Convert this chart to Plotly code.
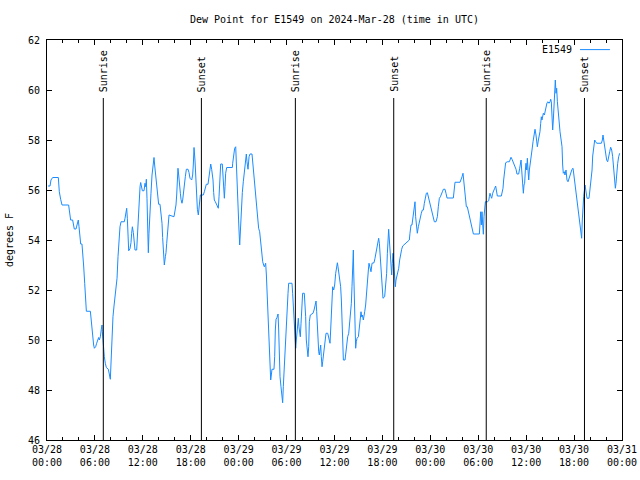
import datetime as dt
import plotly.graph_objects as go

# ---- data ----
start = dt.datetime(2024, 3, 28, 0, 0)

hours = [
 0.13,0.38,0.50,0.71,1.42,1.54,1.71,1.88,2.71,2.80,2.88,2.96,3.21,3.30,3.42,3.63,3.72,3.84,3.92,4.01,
 4.09,4.22,4.38,4.47,4.59,4.72,4.84,4.93,5.43,5.51,5.63,5.72,5.84,5.93,6.09,6.22,6.34,6.47,6.55,6.68,
 6.80,6.89,6.93,7.05,7.18,7.30,7.43,7.68,7.80,7.93,8.01,8.14,8.26,8.39,8.51,8.64,8.77,8.89,9.02,9.14,
 9.27,9.68,9.77,9.89,9.98,10.06,10.14,10.23,10.39,10.52,10.60,10.69,10.81,10.94,11.02,11.23,11.31,11.40,11.52,11.65,
 11.73,11.81,11.94,12.15,12.27,12.36,12.44,12.52,12.61,12.69,12.77,12.90,13.02,13.15,13.27,13.40,13.48,13.61,13.73,13.86,
 13.98,14.15,14.28,14.40,14.48,14.61,14.69,14.82,14.90,14.99,15.07,15.19,15.28,15.90,16.03,16.15,16.24,16.32,16.40,16.49,
 16.57,16.70,16.78,16.90,16.99,17.07,17.20,17.32,17.45,17.66,17.78,17.91,18.12,18.24,18.32,18.41,18.53,18.62,18.74,18.83,
 18.95,19.08,19.20,19.33,19.57,19.70,19.83,19.95,20.16,20.24,20.41,20.50,20.62,20.70,20.79,20.87,20.95,21.08,21.20,21.33,
 21.45,21.54,21.62,21.75,21.95,22.04,22.12,22.21,22.29,22.37,22.50,23.21,23.25,23.38,23.50,23.63,23.71,23.83,23.92,24.04,
 24.13,24.21,24.33,24.46,24.58,24.75,24.88,24.96,25.04,25.17,25.30,25.42,25.67,25.75,25.88,26.00,26.13,26.25,26.38,26.50,
 26.63,26.76,26.88,27.01,27.13,27.21,27.30,27.38,27.47,27.59,27.72,27.84,27.92,28.01,28.09,28.17,28.42,28.51,28.59,28.68,
 28.80,28.93,29.01,29.09,29.18,29.30,29.43,29.51,29.59,29.68,29.80,29.93,30.05,30.18,30.26,30.68,30.76,30.85,30.97,31.05,
 31.14,31.22,31.35,31.47,31.55,31.64,31.72,31.81,31.93,32.01,32.22,32.31,32.39,32.47,32.60,32.68,32.77,32.85,32.97,33.18,
 33.31,33.44,33.56,33.69,33.77,33.85,33.94,34.02,34.10,34.19,34.27,34.35,34.44,34.52,34.60,34.73,34.81,34.94,35.15,35.27,
 35.35,35.44,35.52,35.60,35.69,35.77,35.90,36.02,36.15,36.27,36.36,36.44,36.52,36.65,36.77,36.86,36.94,37.02,37.11,37.32,
 37.44,37.52,37.65,37.78,37.86,37.98,38.11,38.19,38.28,38.36,38.40,38.48,38.57,38.65,38.73,38.82,38.99,39.07,39.15,39.24,
 39.32,39.40,39.49,39.61,39.70,39.78,39.90,39.99,40.11,40.24,40.32,40.45,40.57,40.70,40.95,41.07,41.20,41.32,41.41,41.53,
 41.62,41.70,41.82,41.91,41.99,42.07,42.28,42.41,42.53,42.62,42.70,42.78,42.87,42.95,43.03,43.16,43.24,43.33,43.45,43.54,
 43.62,43.70,43.79,43.91,44.04,44.16,44.29,44.41,44.54,44.83,45.04,45.37,45.45,45.58,45.70,45.83,45.96,46.08,46.16,46.29,
 46.37,46.50,46.62,46.75,46.87,47.00,47.13,47.25,47.38,47.50,47.63,47.75,47.88,48.00,48.13,48.25,48.38,48.50,48.71,48.88,
 49.00,49.13,49.26,49.38,49.51,49.63,49.84,49.96,50.09,50.88,50.96,51.09,51.72,51.84,51.97,52.09,52.18,52.26,52.38,52.51,
 52.63,52.76,52.88,53.01,53.14,53.26,53.39,54.14,54.22,54.31,54.39,54.47,54.56,54.64,54.72,54.81,54.89,55.14,55.31,55.39,
 55.47,55.60,55.68,55.81,55.93,56.06,56.18,56.27,56.39,56.89,56.98,57.10,57.18,57.31,57.43,57.64,57.89,57.98,58.10,58.23,
 58.35,58.48,58.60,58.73,58.85,59.06,59.19,59.27,59.36,59.44,59.52,59.65,59.73,59.81,59.90,59.98,60.07,60.15,60.23,60.32,
 60.40,60.48,60.61,60.73,60.86,60.98,61.11,61.23,61.32,61.40,61.53,61.61,61.73,61.82,61.90,61.98,62.07,62.15,62.28,62.40,
 62.49,62.61,62.74,62.86,62.99,63.07,63.15,63.24,63.32,63.40,63.49,63.57,63.65,63.74,63.82,63.91,63.99,64.11,64.24,64.36,
 64.49,64.57,64.65,64.78,64.86,64.99,65.11,65.24,65.36,65.49,65.61,65.74,65.87,65.95,66.07,66.16,66.24,66.37,66.49,66.62,
 66.70,66.78,66.87,66.95,67.03,67.12,67.20,67.37,67.45,67.54,67.62,67.87,68.00,68.12,68.25,68.33,68.46,68.58,68.71,68.83,
 69.42,69.54,69.62,69.71,69.83,69.96,70.08,70.21,70.33,70.46,70.58,70.71,70.83,70.92,71.00,71.08,71.17,71.25,71.33,71.46,
 71.58,71.71,
]

dewpoint_f = [
 56.16,56.16,56.40,56.50,56.50,55.93,55.63,55.40,55.40,55.23,54.93,54.80,54.80,54.60,54.44,54.44,54.60,54.67,54.80,54.53,
 54.10,53.84,53.84,53.53,52.96,52.27,51.53,51.15,51.15,50.90,50.43,50.03,49.80,49.67,49.73,49.87,50.00,50.10,50.00,50.13,
 50.43,50.60,50.33,49.70,49.33,49.07,48.90,48.83,48.53,48.43,49.04,50.13,50.93,51.36,51.70,51.85,52.47,53.33,54.03,54.53,
 54.73,54.73,54.87,55.10,55.27,54.87,54.00,53.57,53.65,53.90,54.27,54.53,54.30,53.87,53.60,53.60,54.07,55.00,55.67,56.13,
 56.30,56.10,55.97,55.97,56.27,56.13,56.43,55.67,54.27,53.49,54.27,55.33,55.87,56.60,57.04,57.30,57.00,56.60,56.07,55.63,
 55.43,55.43,55.07,54.67,54.10,53.33,53.00,53.33,53.49,53.87,54.27,54.60,55.00,54.93,55.13,55.40,55.80,56.50,56.87,56.60,
 56.16,55.87,55.63,55.47,55.60,55.87,56.16,56.53,56.83,56.83,56.70,56.47,56.40,56.60,57.00,57.70,57.20,56.40,55.67,55.23,
 55.00,55.63,55.80,55.80,55.80,55.93,56.10,56.23,56.23,56.43,56.87,57.04,56.83,56.70,56.40,55.90,55.60,55.53,55.44,55.36,
 55.27,55.73,56.60,57.04,57.04,56.67,56.00,55.67,56.13,56.67,56.90,56.90,57.07,57.47,57.67,57.73,57.20,56.27,55.33,54.40,
 53.80,54.40,55.60,55.90,56.33,56.76,57.20,57.44,57.13,56.83,57.33,57.44,57.44,57.13,56.67,56.20,55.73,55.40,54.87,54.47,
 54.33,53.93,53.47,53.13,53.00,52.93,53.00,53.07,52.60,51.53,50.40,49.33,48.80,48.40,48.60,48.83,48.83,49.33,50.40,50.83,
 50.90,51.04,50.40,49.33,48.53,48.13,47.73,47.49,48.13,48.80,49.53,50.40,51.07,51.87,52.27,52.27,51.87,51.20,50.67,50.13,
 49.67,50.00,50.40,50.87,50.53,50.27,50.13,50.67,51.47,51.87,51.87,51.47,50.93,50.00,49.53,49.33,49.73,50.73,51.00,51.03,
 51.07,51.20,51.40,51.56,51.13,50.53,49.93,49.53,49.40,49.73,49.80,49.33,48.93,49.13,49.40,49.67,49.93,50.27,50.27,50.13,
 50.00,49.87,50.40,51.07,51.80,52.13,52.00,52.20,52.67,53.07,53.09,52.93,52.73,52.47,52.13,51.60,50.80,49.87,49.20,49.20,
 49.53,49.87,50.13,50.27,50.53,50.93,51.47,52.13,53.07,53.60,52.80,51.47,50.27,49.67,49.93,50.07,50.13,50.40,50.73,50.93,
 51.13,50.93,51.00,50.80,50.93,51.13,51.40,51.87,52.40,52.80,53.07,52.93,52.73,53.07,53.09,53.27,53.47,53.67,53.87,54.07,
 53.87,53.47,53.07,52.67,52.13,51.67,51.73,52.13,52.67,53.47,54.20,54.43,54.00,53.47,53.07,52.60,53.07,53.47,52.93,52.47,
 52.13,52.40,52.53,52.73,52.87,53.20,53.47,53.63,53.76,53.84,53.89,54.00,54.27,54.60,54.60,54.93,55.33,55.53,54.93,54.53,
 54.27,54.53,54.73,54.93,55.07,55.20,55.20,55.47,55.67,55.87,55.89,55.73,55.60,55.40,55.20,55.00,54.87,54.73,54.73,54.93,
 55.33,55.67,55.73,55.87,55.93,56.03,56.03,55.87,55.68,55.68,56.00,56.31,56.31,56.40,56.53,56.67,56.33,56.00,55.67,55.33,
 55.33,55.13,54.93,54.73,54.53,54.40,54.24,54.24,54.67,55.13,54.60,55.13,54.60,54.23,54.93,55.47,55.53,55.53,55.57,55.73,
 55.87,55.73,55.67,55.87,56.00,56.07,56.16,55.93,55.76,55.76,55.87,56.07,56.40,56.80,57.09,57.13,57.13,57.20,57.31,57.23,
 57.13,57.00,56.93,56.83,56.64,56.64,56.87,57.04,57.20,56.80,56.20,55.87,56.20,56.27,56.80,57.07,56.80,57.27,56.80,56.40,
 56.80,57.07,57.33,57.60,57.93,58.20,58.43,58.20,57.80,57.73,58.00,58.13,58.33,58.67,58.93,58.80,58.93,59.07,59.00,59.23,
 59.40,59.49,59.53,59.47,59.53,59.63,59.53,58.80,58.40,58.80,59.33,59.80,60.40,59.87,60.07,59.53,59.07,58.80,58.33,57.87,
 57.73,57.00,56.67,56.73,56.60,56.80,56.40,56.33,56.47,56.60,56.73,56.83,56.87,56.67,56.27,56.20,55.80,55.60,55.33,55.07,
 54.73,54.47,54.33,54.07,54.80,55.33,55.73,56.20,56.07,55.87,55.67,55.67,56.00,56.27,56.80,57.36,57.73,58.00,57.93,57.87,
 57.87,58.00,58.20,58.00,57.60,57.40,57.20,57.13,57.27,57.53,57.71,57.60,57.33,56.93,56.53,56.40,56.07,56.27,56.73,57.07,
 57.33,57.47,
]

sun_event_times = ["2024-03-28 07:03", "2024-03-28 19:20", "2024-03-29 07:06",
                   "2024-03-29 19:25", "2024-03-30 07:00", "2024-03-30 19:18"]
sun_event_labels = ["Sunrise", "Sunset", "Sunrise", "Sunset", "Sunrise", "Sunset"]

x_tick_times = ["2024-03-28 00:00", "2024-03-28 06:00", "2024-03-28 12:00", "2024-03-28 18:00",
                "2024-03-29 00:00", "2024-03-29 06:00", "2024-03-29 12:00", "2024-03-29 18:00",
                "2024-03-30 00:00", "2024-03-30 06:00", "2024-03-30 12:00", "2024-03-30 18:00",
                "2024-03-31 00:00"]
x_tick_labels = ["03/28<br>00:00", "03/28<br>06:00", "03/28<br>12:00", "03/28<br>18:00",
                 "03/29<br>00:00", "03/29<br>06:00", "03/29<br>12:00", "03/29<br>18:00",
                 "03/30<br>00:00", "03/30<br>06:00", "03/30<br>12:00", "03/30<br>18:00",
                 "03/31<br>00:00"]
y_ticks = [46, 48, 50, 52, 54, 56, 58, 60, 62]

series_name = "E1549"
title_text = "Dew Point for E1549 on 2024-Mar-28 (time in UTC)"
y_label = "degrees F"

# ---- figure ----
times = [start + dt.timedelta(hours=h) for h in hours]
LINE_COLOR = "#1a8cff"
FONT = "DejaVu Sans Mono"

FIG_W, FIG_H = 640, 480

fig = go.Figure()
fig.add_trace(go.Scatter(x=times, y=dewpoint_f, mode="lines", name=series_name,
                         line=dict(color=LINE_COLOR, width=1), showlegend=False,
                         hoverinfo="skip"))

shapes = []
annotations = []
for t, lab in zip(sun_event_times, sun_event_labels):
    shapes.append(dict(type="line", xref="x", yref="paper", x0=t, x1=t, y0=0, y1=0.855,
                       line=dict(color="black", width=1)))
    annotations.append(dict(x=t, y=0.865, xref="x", yref="paper", text=lab, textangle=-90,
                            showarrow=False, xanchor="center", yanchor="bottom",
                            font=dict(family=FONT, size=10, color="black")))

# legend (text then line sample, gnuplot style)
annotations.append(dict(x=0.9165, y=0.977, xref="paper", yref="paper", text=series_name,
                        showarrow=False, xanchor="right", yanchor="middle",
                        font=dict(family=FONT, size=10, color="black")))
shapes.append(dict(type="line", xref="paper", yref="paper", x0=0.927, x1=0.979,
                   y0=0.976, y1=0.976, line=dict(color=LINE_COLOR, width=1)))

# y-axis label
annotations.append(dict(x=-0.066, y=0.5, xref="paper", yref="paper", text=y_label,
                        textangle=-90, showarrow=False, xanchor="center", yanchor="middle",
                        font=dict(family=FONT, size=10, color="black")))

fig.update_layout(
    width=FIG_W, height=FIG_H,
    margin=dict(l=47, r=18, t=40, b=40, autoexpand=False),
    paper_bgcolor="white", plot_bgcolor="white",
    title=dict(text=title_text, xref="paper", x=0.5, xanchor="center",
               y=1 - 19 / FIG_H, yanchor="middle",
               font=dict(family=FONT, size=10, color="black"), automargin=False),
    font=dict(family=FONT, size=10, color="black"),
    shapes=shapes, annotations=annotations,
    showlegend=False,
)
fig.update_xaxes(
    type="date", range=[x_tick_times[0], x_tick_times[-1]],
    tickmode="array", tickvals=x_tick_times, ticktext=x_tick_labels,
    ticks="inside", ticklen=5, tickwidth=1, tickcolor="black",
    showline=True, linecolor="black", linewidth=1, mirror="allticks",
    showgrid=False, zeroline=False, automargin=False,
    tickfont=dict(family=FONT, size=10, color="black"),
    minor=dict(dtick=2 * 3600 * 1000, ticks="inside", ticklen=3, tickcolor="black", showgrid=False),
)
fig.update_yaxes(
    range=[46, 62], tickmode="array", tickvals=y_ticks,
    ticks="inside", ticklen=5, tickwidth=1, tickcolor="black",
    showline=True, linecolor="black", linewidth=1, mirror="allticks",
    showgrid=False, zeroline=False, automargin=False,
    tickfont=dict(family=FONT, size=10, color="black"),
    ticklabelstandoff=4,
)

# remove the default page margin so the 640x480 figure fills the window exactly
fig.write_html("out.html", config={"displayModeBar": False},
               post_script="document.body.style.margin='0';document.body.style.overflow='hidden';")
